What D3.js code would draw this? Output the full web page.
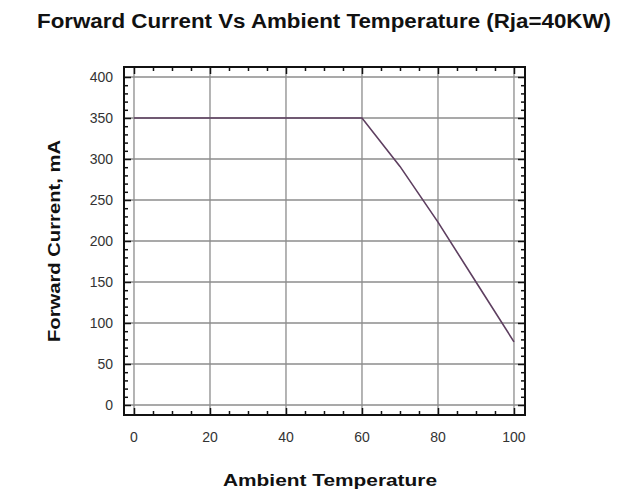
<!DOCTYPE html>
<html>
<head>
<meta charset="utf-8">
<script src="https://cdn.jsdelivr.net/npm/d3@7"></script>
<style>
  body { margin: 0; background: #fff; }
  text { font-family: "Liberation Sans", Arial, sans-serif; }
</style>
</head>
<body>
<svg id="chart" width="626" height="492"></svg>
<script>
// data
const temps = [0, 60, 70, 80, 90, 100];
const currents = [350, 350, 291, 223, 150, 77];
const xTicks = [0, 20, 40, 60, 80, 100];
const yTicks = [0, 50, 100, 150, 200, 250, 300, 350, 400];

const svg = d3.select('#chart');

// plot frame
const frame = { left: 124, right: 525, top: 67, bottom: 415 };

// scales (domain padded so the frame sits outside the data range)
const x = d3.scaleLinear().domain([-2.63, 102.9]).range([frame.left, frame.right]);
const y = d3.scaleLinear().domain([-12.2, 412.2]).range([frame.bottom, frame.top]);

const graph = svg.append('g');

// grid lines
graph.selectAll('line.vgrid')
  .data(xTicks)
  .enter()
  .append('line')
  .attr('x1', d => x(d)).attr('x2', d => x(d))
  .attr('y1', frame.top).attr('y2', frame.bottom)
  .attr('stroke', '#8c8c8c').attr('stroke-width', 1.3);

graph.selectAll('line.hgrid')
  .data(yTicks)
  .enter()
  .append('line')
  .attr('x1', frame.left).attr('x2', frame.right)
  .attr('y1', d => y(d)).attr('y2', d => y(d))
  .attr('stroke', '#8c8c8c').attr('stroke-width', 1.3);

// the curve
const line = d3.line().x((d, i) => x(temps[i])).y(d => y(d));
graph.append('path')
  .datum(currents)
  .attr('d', line)
  .attr('fill', 'none')
  .attr('stroke', '#5e3f60')
  .attr('stroke-width', 1.6);

// inward ticks on all four sides (major + minor)
const xMinor = d3.range(0, 101, 5);
const yMinor = d3.range(0, 401, 10);
const tickG = graph.append('g');

const bottomAxis = d3.axisBottom(x).tickValues(xMinor).tickSizeOuter(0).tickFormat('');
const topAxis = d3.axisTop(x).tickValues(xMinor).tickSizeOuter(0).tickFormat('');
const leftAxis = d3.axisLeft(y).tickValues(yMinor).tickSizeOuter(0).tickFormat('');
const rightAxis = d3.axisRight(y).tickValues(yMinor).tickSizeOuter(0).tickFormat('');

function inward(g, axis, pos, dir, isX, majors) {
  g.append('g')
    .attr('transform', isX ? `translate(0,${pos})` : `translate(${pos},0)`)
    .call(axis)
    .call(s => s.select('.domain').remove())
    .selectAll('.tick line')
    .attr('stroke', '#111')
    .attr('stroke-width', 1.5)
    .attr(isX ? 'y2' : 'x2', d => dir * (majors.includes(d) ? 7 : 4));
}
inward(tickG, bottomAxis, frame.bottom, -1, true, xTicks);
inward(tickG, topAxis, frame.top, 1, true, xTicks);
inward(tickG, leftAxis, frame.left, 1, false, yTicks);
inward(tickG, rightAxis, frame.right, -1, false, yTicks);

// frame
graph.append('rect')
  .attr('x', frame.left).attr('y', frame.top)
  .attr('width', frame.right - frame.left)
  .attr('height', frame.bottom - frame.top)
  .attr('fill', 'none')
  .attr('stroke', '#111')
  .attr('stroke-width', 2);

// tick labels
graph.selectAll('text.xl')
  .data(xTicks)
  .enter()
  .append('text')
  .attr('x', d => x(d))
  .attr('y', 442)
  .attr('text-anchor', 'middle')
  .attr('font-size', 14)
  .attr('fill', '#333')
  .text(d => d);

graph.selectAll('text.yl')
  .data(yTicks)
  .enter()
  .append('text')
  .attr('x', 113)
  .attr('y', d => y(d) + 5)
  .attr('text-anchor', 'end')
  .attr('font-size', 14)
  .attr('fill', '#333')
  .text(d => d);

// titles (stretched a bit wider, like the original)
svg.append('text')
  .attr('x', 324).attr('y', 28)
  .attr('text-anchor', 'middle')
  .attr('font-size', 20).attr('font-weight', 'bold')
  .attr('textLength', 574).attr('lengthAdjust', 'spacingAndGlyphs')
  .attr('fill', '#111')
  .text('Forward Current Vs Ambient Temperature (Rja=40KW)');

svg.append('text')
  .attr('x', 330).attr('y', 486)
  .attr('text-anchor', 'middle')
  .attr('font-size', 17).attr('font-weight', 'bold')
  .attr('textLength', 214).attr('lengthAdjust', 'spacingAndGlyphs')
  .attr('fill', '#111')
  .text('Ambient Temperature');

svg.append('text')
  .attr('transform', 'translate(60,241) rotate(-90)')
  .attr('text-anchor', 'middle')
  .attr('font-size', 17).attr('font-weight', 'bold')
  .attr('textLength', 202).attr('lengthAdjust', 'spacingAndGlyphs')
  .attr('fill', '#111')
  .text('Forward Current, mA');
</script>
</body>
</html>
